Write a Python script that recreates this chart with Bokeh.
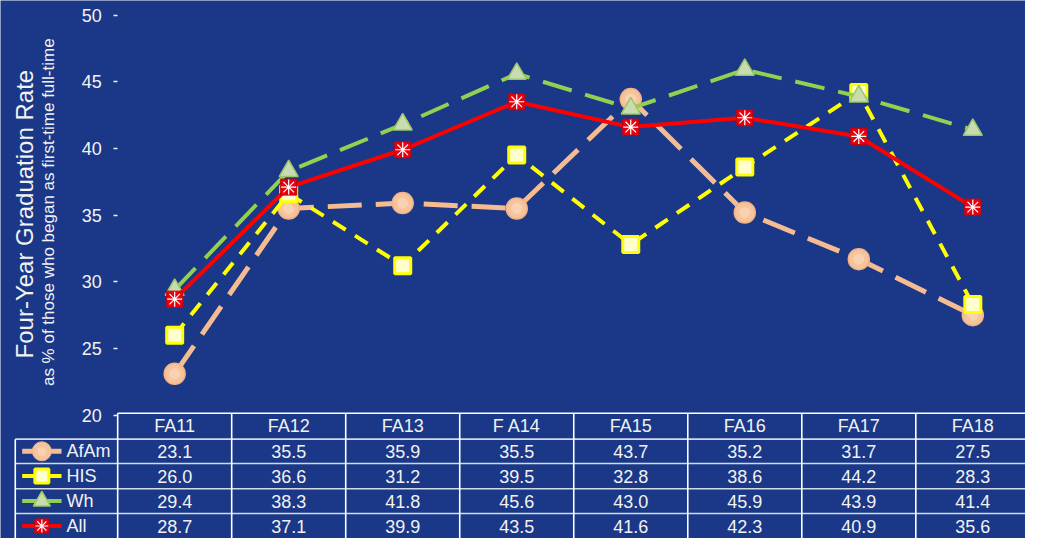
import math
from bokeh.plotting import figure
from bokeh.models import LinearAxis, FixedTicker, Range1d
from bokeh.core.properties import value
from bokeh.embed import file_html
from bokeh.resources import INLINE

# ---------------- data ----------------
terms = ["FA11", "FA12", "FA13", "F A14", "FA15", "FA16", "FA17", "FA18"]
afam = [23.1, 35.5, 35.9, 35.5, 43.7, 35.2, 31.7, 27.5]
his = [26.0, 36.6, 31.2, 39.5, 32.8, 38.6, 44.2, 28.3]
wh = [29.4, 38.3, 41.8, 45.6, 43.0, 45.9, 43.9, 41.4]
all_students = [28.7, 37.1, 39.9, 43.5, 41.6, 42.3, 40.9, 35.6]
series_names = ["AfAm", "HIS", "Wh", "All"]
y_ticks = [20, 25, 30, 35, 40, 45, 50]
y_title = "Four-Year Graduation Rate"
y_subtitle = "as % of those who began as first-time full-time"

# ---------------- style ----------------
BG = "#1A3887"
TXT = "#F2F2F2"
FONT = "Liberation Sans"

W, H = 1025, 538
# reference pixel geometry -> data units
PX_X0, PX_PER_X = 119.0, 115.8      # x=0 at px 119, one category per 115.8 px
PX_Y20, PX_PER_Y = 427.0, 13.733    # y=20 at px 427
REF_W, REF_H = 1041.0, 554.0

def xd(px):
    return (px - PX_X0) / PX_PER_X

def yd(py):
    return 20 - (py - PX_Y20) / PX_PER_Y

p = figure(width=W, height=H,
           x_range=Range1d(xd(0), xd(REF_W)),
           y_range=Range1d(yd(REF_H), yd(0)),
           x_axis_type=None, y_axis_type=None,
           toolbar_location=None, output_backend="svg",
           min_border=0, min_border_left=0, min_border_right=0,
           min_border_top=0, min_border_bottom=0,
           background_fill_color=BG, border_fill_color=BG,
           outline_line_color=None)

# y axis placed inside the frame at x = 0
yaxis = LinearAxis(fixed_location=0, ticker=FixedTicker(ticks=y_ticks),
                   axis_line_color=None,
                   major_tick_line_color=TXT, major_tick_line_width=1.5,
                   major_tick_out=4, major_tick_in=0,
                   minor_tick_line_color=None,
                   major_label_text_color=TXT,
                   major_label_text_font=FONT,
                   major_label_text_font_size="18px",
                   major_label_standoff=12)
p.add_layout(yaxis, "left")

xs = [i + 0.5 for i in range(len(terms))]

# axis titles
p.text(x=[xd(24)], y=[yd(220)], text=[y_title], angle=math.pi / 2,
       text_align="center", text_baseline="middle",
       text_font=value(FONT), text_font_size="24px", text_color=TXT)
p.text(x=[xd(49)], y=[yd(218)], text=[y_subtitle], angle=math.pi / 2,
       text_align="center", text_baseline="middle",
       text_font=value(FONT), text_font_size="17px", text_color=TXT)

# ---------------- series ----------------
# AfAm
p.line(xs, afam, line_color="#F5BC92", line_width=5, line_dash="34 14")
p.scatter(xs, afam, marker="circle", size=21, fill_color="#F6C39C",
          line_color="#F2B386", line_width=1.5)
p.scatter(xs, afam, marker="circle", size=11, fill_color="#F9D2B2",
          line_color=None)
# HIS
p.line(xs, his, line_color="#FFFF00", line_width=4, line_dash="15 11")
p.scatter(xs, his, marker="square", size=16, fill_color="#FFFFCC",
          line_color="#FFFF00", line_width=3)
# Wh
p.line(xs, wh, line_color="#92D050", line_width=4, line_dash="30 14")
p.scatter(xs, wh, marker="triangle", size=19, fill_color="#C8DCB0",
          line_color="#9CC766", line_width=1.5)
# All
p.line(xs, all_students, line_color="#FF0000", line_width=4)
p.scatter(xs, all_students, marker="square", size=16, fill_color="#E8000F",
          line_color="#C8000A", line_width=1)
p.scatter(xs, all_students, marker="asterisk", size=15, line_color="white",
          line_width=1.2)

# ---------------- data table ----------------
row_px = [425.0, 451.7, 476.7, 502.7, 528.3, 554.0]
row_y = [yd(v) for v in row_px]
leg_left = xd(15)
n = len(terms)

# horizontal lines
p.segment(x0=[0], y0=[row_y[0]], x1=[n], y1=[row_y[0]],
          line_color="white", line_width=1.6)
p.segment(x0=[leg_left] * 4, y0=row_y[1:5], x1=[n] * 4, y1=row_y[1:5],
          line_color="#D4D9E6", line_width=1.6)
# vertical lines
p.segment(x0=list(range(n + 1)), y0=[row_y[0]] * (n + 1),
          x1=list(range(n + 1)), y1=[row_y[5] - 1] * (n + 1),
          line_color="white", line_width=1.6)
p.segment(x0=[leg_left], y0=[row_y[1]], x1=[leg_left], y1=[row_y[5] - 1],
          line_color="white", line_width=1.6)

hdr_y = (row_y[0] + row_y[1]) / 2
p.text(x=xs, y=[hdr_y] * n, text=terms, text_align="center",
       text_baseline="middle", text_font=value(FONT),
       text_font_size="18px", text_color=TXT)

all_series = [afam, his, wh, all_students]
for r, vals in enumerate(all_series):
    cy = (row_y[r + 1] + row_y[r + 2]) / 2
    p.text(x=xs, y=[cy] * n, text=[f"{v:.1f}" for v in vals],
           text_align="center", text_baseline="middle",
           text_font=value(FONT), text_font_size="18px", text_color=TXT)

# legend keys in the table
lx0, lx1, lxm, ltx = xd(22), xd(62), xd(42), xd(67)
cys = [(row_y[r + 1] + row_y[r + 2]) / 2 for r in range(4)]
p.segment(x0=[lx0], y0=[cys[0]], x1=[lx1], y1=[cys[0]], line_color="#F5BC92", line_width=5)
p.scatter([lxm], [cys[0]], marker="circle", size=19, fill_color="#F6C39C", line_color="#F2B386")
p.scatter([lxm], [cys[0]], marker="circle", size=9, fill_color="#F9D2B2", line_color=None)
p.segment(x0=[lx0], y0=[cys[1]], x1=[lx1], y1=[cys[1]], line_color="#FFFF00", line_width=4)
p.scatter([lxm], [cys[1]], marker="square", size=14, fill_color="#FFFFCC", line_color="#FFFF00", line_width=3)
p.segment(x0=[lx0], y0=[cys[2]], x1=[lx1], y1=[cys[2]], line_color="#92D050", line_width=4)
p.scatter([lxm], [cys[2]], marker="triangle", size=17, fill_color="#C8DCB0", line_color="#9CC766", line_width=1.5)
p.segment(x0=[lx0], y0=[cys[3]], x1=[lx1], y1=[cys[3]], line_color="#FF0000", line_width=4)
p.scatter([lxm], [cys[3]], marker="square", size=14, fill_color="#E8000F", line_color="#C8000A")
p.scatter([lxm], [cys[3]], marker="asterisk", size=13, line_color="white", line_width=1.2)
p.text(x=[ltx] * 4, y=cys, text=series_names, text_align="left",
       text_baseline="middle", text_font=value(FONT),
       text_font_size="18px", text_color=TXT)

open("out.html", "w").write(file_html(p, INLINE))
